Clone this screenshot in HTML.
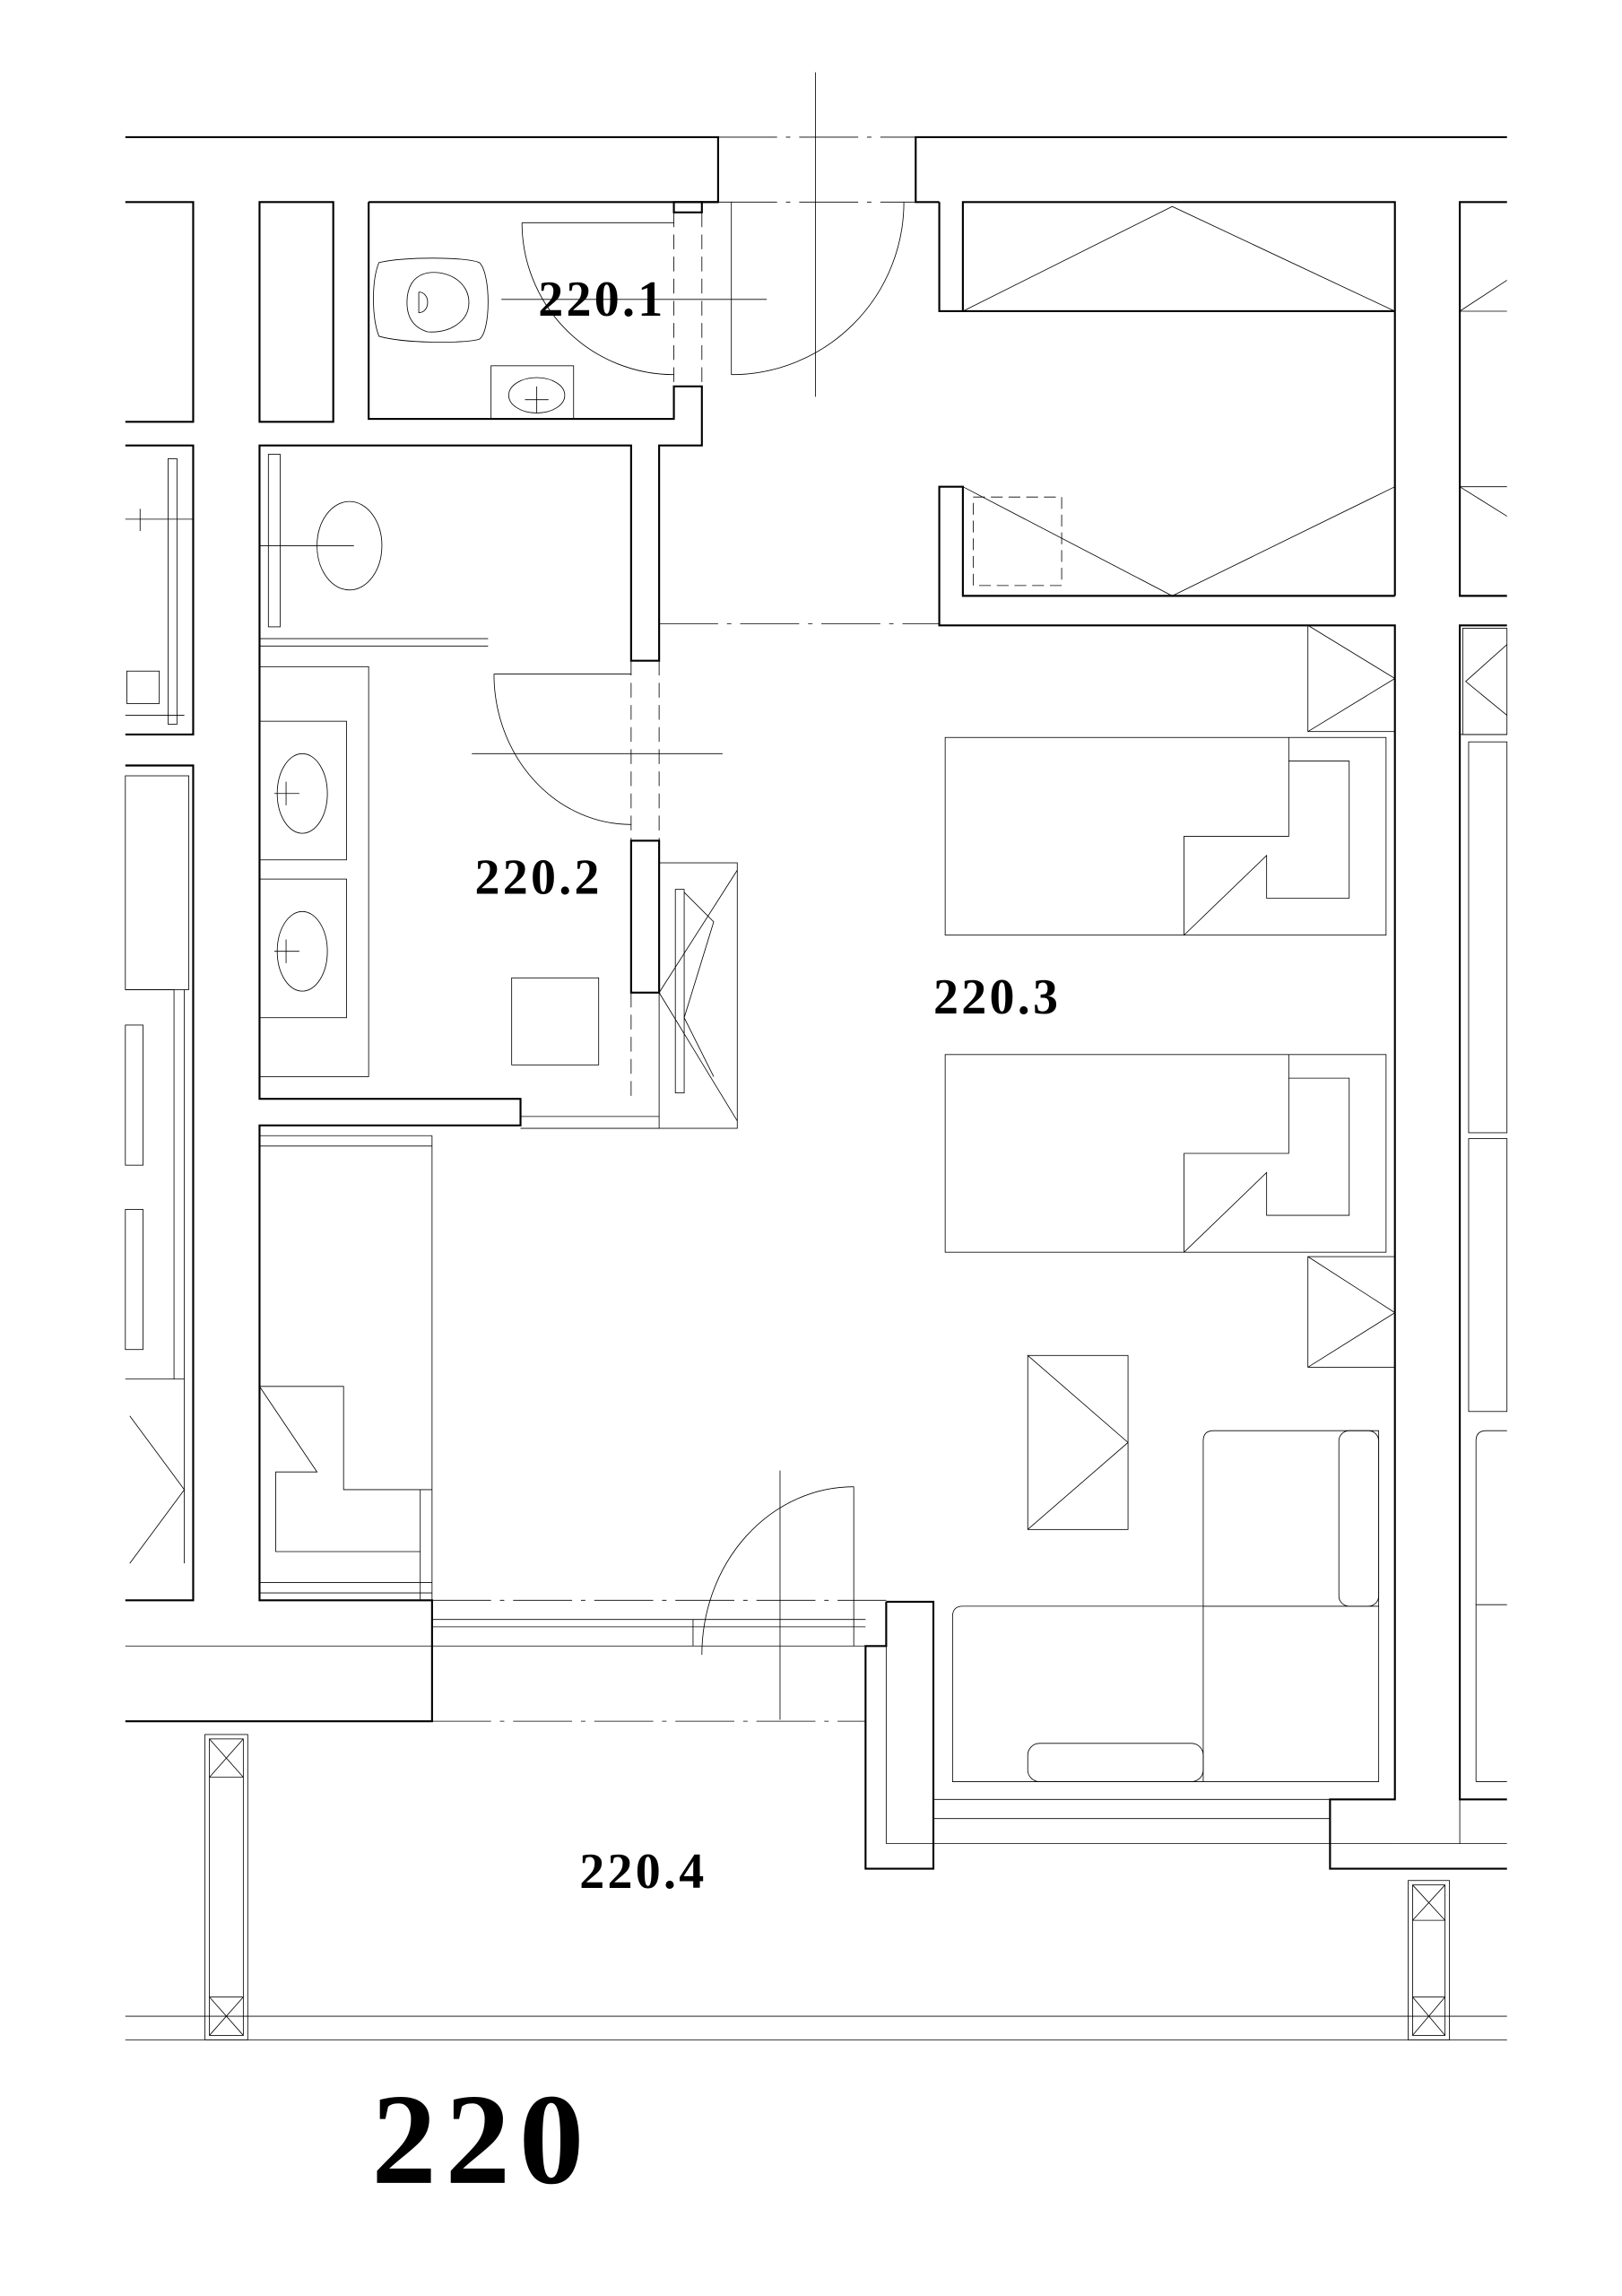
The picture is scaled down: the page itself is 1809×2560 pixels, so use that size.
<!DOCTYPE html>
<html><head><meta charset="utf-8"><style>
html,body{margin:0;padding:0;background:#fff;}
svg{display:block;}
</style></head><body>
<svg width="1809" height="2560" viewBox="0 0 1100 1556.7" xmlns="http://www.w3.org/2000/svg">
<g fill="none" stroke="#000" stroke-width="1.3">
<polyline points="85,93 487,93 487,137 475,137"/>
<polyline points="1022,93 621,93 621,137 637,137"/>
<polyline points="85,137 131,137 131,286 85,286"/>
<rect x="176" y="137" width="50" height="149"/>
<polyline points="250,137 487,137"/>
<polyline points="250,137 250,284 457,284 457,262 476,262 476,302 447,302 447,448 428,448 428,302 176,302 176,745 353,745 353,763 176,763 176,1085 293,1085 293,1167 85,1167"/>
<rect x="457" y="137" width="19" height="7"/>
<polyline points="85,302 131,302 131,498 85,498"/>
<polyline points="85,519 131,519 131,1085 85,1085"/>
<polyline points="637,137 637,211 653,211 653,137 946,137 946,404"/>
<line x1="653" y1="211" x2="946" y2="211"/>
<polyline points="946,404 653,404 653,330 637,330 637,424 946,424 946,1220 902,1220 902,1267 1022,1267"/>
<polyline points="1022,137 990,137 990,404 1022,404"/>
<polyline points="1022,424 990,424 990,1220 1022,1220"/>
<rect x="428" y="570" width="19" height="103"/>
<polyline points="601,1086 633,1086 633,1267 587,1267 587,1116 601,1116 601,1086"/>
</g>
<g fill="none" stroke="#000" stroke-width="0.5">
<g stroke-dasharray="40,6,3,6">
<line x1="487" y1="93" x2="621" y2="93"/><line x1="487" y1="137" x2="621" y2="137"/>
<line x1="447" y1="423" x2="637" y2="423"/>
<line x1="293" y1="1085" x2="601" y2="1085"/><line x1="293" y1="1167" x2="587" y2="1167"/>
</g>
<g stroke-dasharray="10,5">
<line x1="457" y1="144" x2="457" y2="262"/><line x1="476" y1="144" x2="476" y2="262"/>
<line x1="428" y1="448" x2="428" y2="570"/><line x1="447" y1="448" x2="447" y2="570"/>
<line x1="428" y1="673" x2="428" y2="745"/>
</g>
<line x1="553" y1="49" x2="553" y2="269"/><line x1="340" y1="203" x2="520" y2="203"/>
<line x1="354" y1="151" x2="457" y2="151"/><path d="M354,151 A103,103 0 0 0 457,254"/>
<line x1="496" y1="137" x2="496" y2="254"/><path d="M496,254 A117,117 0 0 0 613,137"/>
<path d="M257,178 C275,174 315,174 325,178 C333,185 333,225 325,230 C315,233 275,233 257,228 C252,215 252,190 257,178 Z"/>
<path d="M290,185 C305,183 318,192 318,205 C318,218 305,226 290,225 C280,222 276,215 276,205 C276,195 280,187 290,185 Z"/>
<path d="M284,198 L284,212 C292,212 292,198 284,198"/>
<rect x="333" y="248" width="56" height="36"/>
<ellipse cx="364" cy="268" rx="19" ry="12"/><line x1="356" y1="271" x2="372" y2="271"/><line x1="364" y1="262" x2="364" y2="280"/>
<rect x="182" y="308" width="8" height="117"/>
<ellipse cx="237" cy="370" rx="22" ry="30"/><line x1="176" y1="370" x2="240" y2="370"/>
<line x1="176" y1="433" x2="331" y2="433"/><line x1="176" y1="438" x2="331" y2="438"/>
<rect x="176" y="452" width="74" height="278"/>
<rect x="176" y="489" width="59" height="94"/><rect x="176" y="596" width="59" height="94"/>
<ellipse cx="205" cy="538" rx="17" ry="27"/><ellipse cx="205" cy="645" rx="17" ry="27"/>
<line x1="186" y1="538" x2="203" y2="538"/><line x1="194" y1="530" x2="194" y2="546"/>
<line x1="186" y1="645" x2="203" y2="645"/><line x1="194" y1="637" x2="194" y2="653"/>
<rect x="347" y="663" width="59" height="59"/>
<line x1="335" y1="457" x2="428" y2="457"/><path d="M335,457 A93,102 0 0 0 428,559"/>
<line x1="320" y1="511" x2="490" y2="511"/>
<rect x="447" y="585" width="53" height="180"/>
<rect x="458" y="603" width="6" height="138"/>
<polyline points="447,673 500,590"/><polyline points="447,673 500,760"/><polyline points="464,605 484,625 464,690 484,730"/>
<line x1="353" y1="757" x2="447" y2="757"/><line x1="353" y1="765" x2="447" y2="765"/>
<polyline points="653,211 795,140 946,211"/>
<polyline points="653,330 795,404 946,330"/>
<rect x="660" y="337" width="60" height="60" stroke-dasharray="8,4"/>
<line x1="990" y1="211" x2="1022" y2="211"/><polyline points="1022,190 990,211"/>
<line x1="990" y1="330" x2="1022" y2="330"/><polyline points="990,330 1022,350"/>
<rect x="992" y="426" width="30" height="72"/><polyline points="1022,437 994,462 1022,485"/>
<line x1="990" y1="498" x2="1022" y2="498"/><rect x="996" y="503" width="26" height="265"/>
<rect x="996" y="772" width="26" height="185"/>
<path d="M1022,970 L1008,970 Q1001,970 1001,977 L1001,1088 L1022,1088"/><line x1="1001" y1="1208" x2="1022" y2="1208"/><line x1="1001" y1="1088" x2="1001" y2="1208"/>
<line x1="946" y1="1250" x2="1022" y2="1250"/><line x1="990" y1="1220" x2="990" y2="1250"/>
<rect x="114" y="311" width="6" height="180"/><line x1="85" y1="352" x2="131" y2="352"/><line x1="95" y1="345" x2="95" y2="360"/>
<rect x="86" y="455" width="22" height="22"/><line x1="85" y1="485" x2="125" y2="485"/>
<rect x="85" y="526" width="43" height="145"/><line x1="85" y1="671" x2="118" y2="671"/><line x1="118" y1="671" x2="118" y2="935"/>
<rect x="85" y="695" width="12" height="95"/><rect x="85" y="820" width="12" height="95"/>
<line x1="85" y1="935" x2="125" y2="935"/><line x1="125" y1="671" x2="125" y2="1060"/>
<polyline points="88,960 125,1010 88,1060"/>
<line x1="176" y1="770" x2="293" y2="770"/><line x1="176" y1="777" x2="293" y2="777"/>
<line x1="293" y1="770" x2="293" y2="1085"/><line x1="285" y1="1010" x2="285" y2="1085"/>
<line x1="176" y1="1073" x2="293" y2="1073"/><line x1="176" y1="1080" x2="293" y2="1080"/>
<polyline points="176,940 233,940 233,1010 293,1010"/>
<polyline points="176,940 215,998 187,998 187,1052 285,1052"/>
<rect x="641" y="500" width="299" height="134"/>
<polyline points="874,500 874,516 915,516 915,609 859,609 859,580 803,634"/><polyline points="874,516 874,567 803,567 803,634"/>
<rect x="641" y="715" width="299" height="134"/>
<polyline points="874,715 874,731 915,731 915,824 859,824 859,795 803,849"/><polyline points="874,731 874,782 803,782 803,849"/>
<rect x="887" y="424" width="59" height="72"/><polyline points="887,424 946,460 887,496"/>
<rect x="887" y="852" width="59" height="75"/><polyline points="887,852 946,890 887,927"/>
<rect x="697" y="919" width="68" height="118"/><polyline points="697,919 765,978 697,1037"/>
<path d="M823,970 L935,970 L935,1089 L816,1089 L816,977 Q816,970 823,970 Z"/>
<rect x="908" y="970" width="27" height="119" rx="7"/>
<path d="M653,1089 L935,1089 L935,1208 L646,1208 L646,1096 Q646,1089 653,1089 Z"/>
<line x1="816" y1="1089" x2="816" y2="1208"/>
<rect x="697" y="1182" width="119" height="26" rx="8"/>
<line x1="579" y1="1008" x2="579" y2="1116"/><path d="M579,1008 A103,114 0 0 0 476,1122"/>
<line x1="529" y1="997" x2="529" y2="1166"/>
<line x1="293" y1="1098" x2="587" y2="1098"/><line x1="293" y1="1103" x2="587" y2="1103"/>
<line x1="85" y1="1116" x2="601" y2="1116"/><line x1="470" y1="1098" x2="470" y2="1116"/>
<line x1="633" y1="1220" x2="902" y2="1220"/><line x1="633" y1="1233" x2="902" y2="1233"/><line x1="601" y1="1250" x2="946" y2="1250"/>
<line x1="601" y1="1116" x2="601" y2="1250"/>
<line x1="85" y1="1367" x2="1022" y2="1367"/><line x1="85" y1="1383" x2="1022" y2="1383"/>
<rect x="139" y="1176" width="29" height="207"/><rect x="142" y="1179" width="23" height="201"/>
<line x1="142" y1="1205" x2="165" y2="1205"/><polyline points="142,1179 165,1205"/><polyline points="165,1179 142,1205"/>
<line x1="142" y1="1354" x2="165" y2="1354"/><polyline points="142,1354 165,1380"/><polyline points="165,1354 142,1380"/>
<rect x="955" y="1275" width="28" height="108"/><rect x="958" y="1278" width="22" height="102"/>
<line x1="958" y1="1302" x2="980" y2="1302"/><polyline points="958,1278 980,1302"/><polyline points="980,1278 958,1302"/>
<line x1="958" y1="1354" x2="980" y2="1354"/><polyline points="958,1354 980,1380"/><polyline points="980,1354 958,1380"/>
</g>
<g font-family="'Liberation Serif', serif" font-weight="bold" fill="#000">
<text x="365" y="214" font-size="34" letter-spacing="2">220.1</text>
<text x="322" y="606" font-size="34" letter-spacing="2">220.2</text>
<text x="633" y="687" font-size="34" letter-spacing="2">220.3</text>
<text x="393" y="1280" font-size="34" letter-spacing="2">220.4</text>
<text x="252" y="1480" font-size="88" letter-spacing="6">220</text>
</g>
</svg>
</body></html>
